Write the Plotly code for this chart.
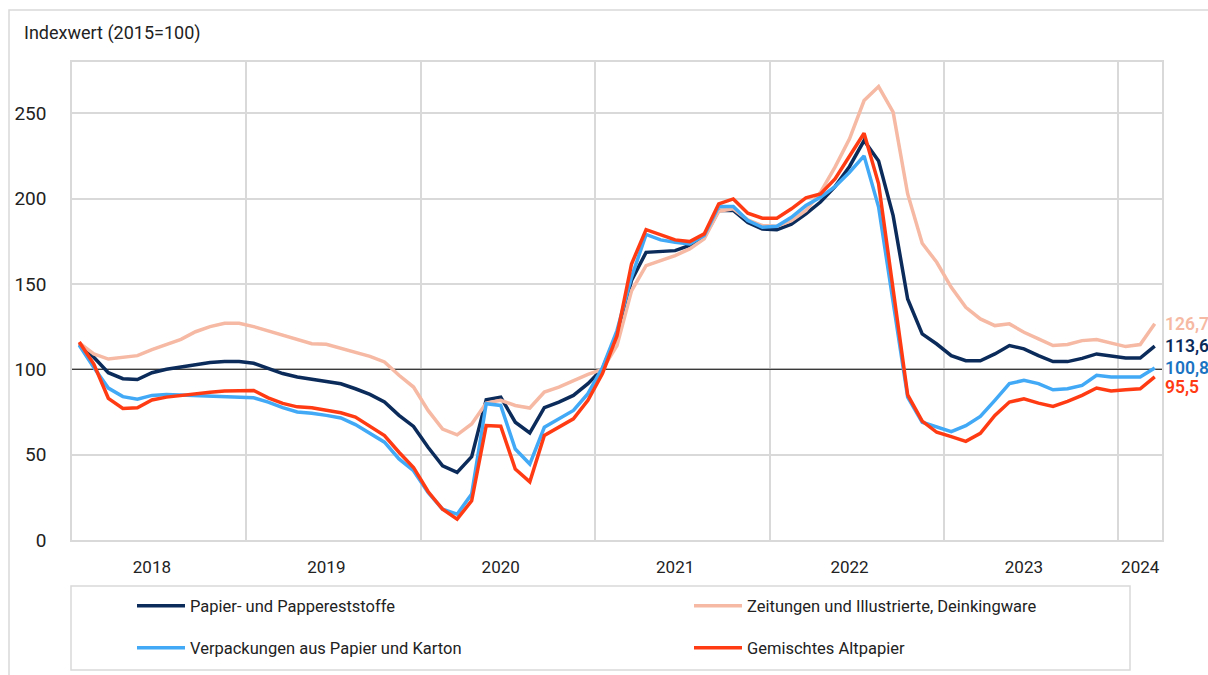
import plotly.graph_objects as go

# ---- data (monthly index values, Jan 2018 .. Mar 2024) ----
papier = [115, 107, 98, 94.5, 94, 98, 100, 101.4, 103, 104, 104.5, 104.5,
          103.5, 100.4, 97.5, 95.5, 94.3, 93, 91.5, 88.6, 85.3, 80.8, 73, 66.5,
          54.3, 43.5, 39.6, 48.8, 82.2, 83.7, 69, 62.7, 77.5, 80.8, 84.7, 91.6,
          100.4, 120.7, 152, 168.5, 169, 169.5, 172.5, 177.3, 193, 193, 186, 182.2,
          181.8, 185, 191, 198, 207, 218.8, 234, 222, 190, 141.2, 120.7, 114.8,
          108, 105, 105, 109, 113.9, 112, 108, 104.5, 104.5, 106.4, 109, 107.8,
          106.6, 106.6, 113.6]
zeitungen = [115.5, 109, 106, 107, 108, 111.5, 114.5, 117.5, 122, 125, 127, 127,
             125, 122.5, 120, 117.5, 115, 114.7, 112.5, 110.2, 107.6, 104.3, 96.5, 89.6,
             75.9, 65, 61.6, 68, 80.2, 81.8, 78.8, 77.3, 86.7, 89.6, 93.5, 97,
             100, 113.9, 146, 160.7, 163.7, 166.6, 170.5, 176.4, 192.6, 194, 187.5, 184.2,
             183.8, 187.1, 193, 203.7, 218.4, 235, 257.4, 265.6, 250.6, 202.7, 173.8, 162.7,
             148, 136.3, 129.5, 125.6, 126.6, 121.7, 117.8, 113.9, 114.5, 116.8, 117.4, 115.2,
             113.3, 114.5, 126.7]
verpackungen = [114, 101, 89, 84, 82.5, 84.7, 85.3, 85, 84.5, 84.3, 83.7, 83.7,
                83.3, 80.8, 77.5, 75, 74.3, 73, 71.5, 67.6, 62.2, 57.3, 47.5, 40.6,
                27.8, 18, 15.1, 26.9, 79.8, 78.8, 53.3, 44.5, 66, 71, 75.9, 85.7,
                101, 122.7, 154, 179, 175.8, 174.4, 173.4, 178.3, 195.3, 195.3, 187.1, 183.2,
                183.8, 189, 195.9, 200.8, 207, 215.4, 225, 195, 140, 83.7, 69, 66,
                63.5, 67, 72.4, 81.8, 91.6, 93.5, 91.6, 88, 88.6, 90.6, 96.5, 95.5,
                95.5, 95.5, 100.8]
gemischt = [116, 103, 83, 77, 77.5, 82, 83.7, 84.7, 86, 86.5, 87.3, 87.6,
            87.6, 83.3, 80, 78, 77.5, 76, 74.5, 72, 66.5, 61.2, 51.4, 42.5,
            28.4, 18, 12.2, 23, 67, 66.7, 41.6, 34.1, 61.2, 66.1, 71, 81.8,
            97.5, 119.7, 161.7, 181.8, 179, 175.8, 174.8, 179.3, 196.9, 199.8, 191.4, 188.5,
            188.5, 194, 200.4, 202.7, 211.5, 225.2, 238.3, 208.6, 146, 85, 69.6, 63.1,
            60.6, 57.8, 62.5, 73, 80.8, 82.7, 80.2, 78.2, 81.2, 84.7, 89, 87.3,
            88, 88.6, 95.5]

names = ["Papier- und Pappereststoffe", "Zeitungen und Illustrierte, Deinkingware",
         "Verpackungen aus Papier und Karton", "Gemischtes Altpapier"]
years = ["2018", "2019", "2020", "2021", "2022", "2023", "2024"]
year_label_pos = [5, 17, 29, 41, 53, 65, 73]
year_bounds = [11.5, 23.5, 35.5, 47.5, 59.5, 71.5]
BASE = 100
y_ticks = [0, 50, 100, 150, 200, 250]

x = list(range(len(papier)))
n = len(x)

colors = ["#0b2b5b", "#f6b9a3", "#41a9f6", "#ff3b14"]
label_colors = ["#0b2b5b", "#f6b9a3", "#1a74c2", "#ff3b14"]
label_yshift = [0, 0, 0, -10]
legend_ids = ["legend", "legend2", "legend3", "legend4"]
series = [papier, zeitungen, verpackungen, gemischt]

FONT = "Roboto, Arial, sans-serif"
TXT = "#222222"
GRID = "#d9d9d9"

W, H = 1208, 675
L, R, T, B = 72, 46, 62, 135
pw, ph = W - L - R, H - T - B


def px2x(px):
    return (px - L) / pw


def py2y(py):
    return (H - B - py) / ph


fig = go.Figure()

# reference line at 100
fig.add_trace(go.Scatter(x=[-0.5, n - 0.5], y=[BASE, BASE], mode="lines",
                         line=dict(color="#3a3a3a", width=1.2),
                         showlegend=False, hoverinfo="skip"))

for s, nm, c, lg in zip(series, names, colors, legend_ids):
    fig.add_trace(go.Scatter(x=x, y=s, name=nm, mode="lines",
                             line=dict(color=c, width=3.5), legend=lg))

# end labels
for s, c, ys in zip(series, label_colors, label_yshift):
    fig.add_annotation(x=x[-1], y=s[-1], xref="x", yref="y",
                       text=f"{s[-1]:.1f}".replace(".", ","),
                       showarrow=False, xanchor="left", yanchor="middle",
                       xshift=8, yshift=ys,
                       font=dict(family=FONT, size=17.5, color=c, weight=600))

# title
fig.add_annotation(x=px2x(22), y=py2y(33), xref="paper", yref="paper",
                   text="Indexwert (2015=100)", showarrow=False,
                   xanchor="left", yanchor="middle",
                   font=dict(family=FONT, size=18, color=TXT))

# outer frame and legend box
fig.add_shape(type="rect", xref="paper", yref="paper",
              x0=px2x(9), x1=px2x(1230), y0=py2y(700), y1=py2y(10),
              line=dict(color=GRID, width=1.5), layer="below")
fig.add_shape(type="rect", xref="paper", yref="paper",
              x0=px2x(71), x1=px2x(1130), y0=py2y(670), y1=py2y(586),
              line=dict(color=GRID, width=1.5), layer="below")

legend_pos = {"legend": (132, 606), "legend2": (689, 606),
              "legend3": (132, 648), "legend4": (689, 648)}
legend_layout = {}
for key, (lx, ly) in legend_pos.items():
    legend_layout[key] = dict(orientation="h", x=px2x(lx), y=py2y(ly),
                              xanchor="left", yanchor="middle", itemwidth=48,
                              font=dict(family=FONT, size=16.5, color=TXT),
                              bgcolor="rgba(0,0,0,0)")

fig.update_layout(
    width=W, height=H,
    margin=dict(l=L, r=R, t=T, b=B, autoexpand=False),
    paper_bgcolor="white", plot_bgcolor="white",
    font=dict(family=FONT, color=TXT),
    showlegend=True,
    xaxis=dict(range=[-0.5, n - 0.5], tickmode="array",
               tickvals=year_label_pos, ticktext=years,
               showgrid=False, ticks="", ticklabelstandoff=11,
               tickfont=dict(family=FONT, size=17, color=TXT),
               showline=True, linecolor=GRID, linewidth=1.5, mirror=True,
               zeroline=False,
               minor=dict(tickmode="array", tickvals=year_bounds, showgrid=True,
                          gridcolor=GRID, gridwidth=1.5, ticks="")),
    yaxis=dict(range=[0, 280], tickmode="array", tickvals=y_ticks,
               showgrid=True, gridcolor=GRID, gridwidth=1.5, ticks="",
               ticklabelstandoff=20,
               tickfont=dict(family=FONT, size=19, color=TXT),
               showline=True, linecolor=GRID, linewidth=1.5, mirror=True,
               zeroline=False),
    hovermode=False,
    **legend_layout,
)

fig.write_html("out.html", config={"displayModeBar": False},
               post_script="document.body.style.margin='0';document.body.style.overflow='hidden';")
